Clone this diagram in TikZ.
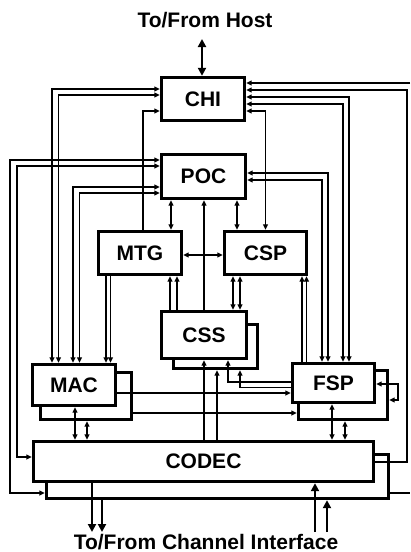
\documentclass[tikz,border=0pt]{standalone}
\usepackage{fontspec}
\setmainfont{Liberation Sans}
\usetikzlibrary{arrows.meta}
\begin{document}
\begin{tikzpicture}[x=1pt,y=-1pt,
  box/.style={draw, line width=3.4pt, fill=white, inner sep=0pt, outer sep=1.7pt,
    font=\bfseries\fontsize{21}{24}\selectfont},
  shd/.style={draw, line width=3.4pt, fill=white, inner sep=0pt, outer sep=1.7pt},
  lbl/.style={font=\bfseries\fontsize{21}{24}\selectfont, inner sep=0pt},
  ln/.style={line width=1.7pt},
  ar/.style={ln, -{Triangle[length=5.5pt,width=5pt]}},
  da/.style={ln, {Triangle[length=5.5pt,width=5pt]}-{Triangle[length=5.5pt,width=5pt]}},
  thk/.style={line width=2.6pt, -{Triangle[length=8pt,width=8pt]}},
  bthk/.style={line width=2.6pt, {Triangle[length=8pt,width=8pt]}-{Triangle[length=8pt,width=8pt]}}
]
\useasboundingbox (0,0) rectangle (410,552);

% shadows
\node[shd, minimum width=84pt, minimum height=44pt] (css2) at (215.5,346.5) {};
\node[shd, minimum width=91pt, minimum height=47pt] (mac2) at (86,396) {};
\node[shd, minimum width=89pt, minimum height=49pt] (fsp2) at (343,395) {};
\node[shd, minimum width=342pt, minimum height=44pt] (codec2) at (217.5,476.5) {};

% main boxes
\node[box, minimum width=83pt, minimum height=43pt] (chi) at (203,99) {CHI};
\node[box, minimum width=84pt, minimum height=44pt] (poc) at (203.5,176.5) {POC};
\node[box, minimum width=83pt, minimum height=43pt] (mtg) at (140,253) {MTG};
\node[box, minimum width=82pt, minimum height=43pt] (csp) at (265.5,253) {CSP};
\node[box, minimum width=85pt, minimum height=47pt] (css) at (204,335) {CSS};
\node[box, minimum width=83pt, minimum height=41pt] (mac) at (74,385) {MAC};
\node[box, minimum width=82pt, minimum height=39pt] (fsp) at (333.5,383) {FSP};
\node[box, minimum width=340pt, minimum height=40pt] (codec) at (203.5,461.5) {CODEC};

% labels
\node[lbl, anchor=base] (hostlbl) at (205,27) {To/From Host};
\node[lbl, anchor=base] (chanlbl) at (206,549) {To/From Channel Interface};

% host
\coordinate (hosttop) at (202,39);
\draw[bthk] (hosttop) -- (chi.north -| hosttop);

% channel
\coordinate (c1) at (92,532);
\coordinate (c2) at (102,532);
\coordinate (c3) at (315,532);
\coordinate (c4) at (327,532);
\draw[thk] (codec.south -| c1) -- (c1);
\draw[thk] (codec2.south -| c2) -- (c2);
\draw[thk] (c3) -- (codec.south -| c3);
\draw[thk] (c4) -- (codec2.south -| c4);

% CHI left
\draw[da] (chi.west |- 0,89) -| (mac.north -| 52,0);
\draw[da] (chi.west |- 0,95) -| (mac.north -| 58.5,0);
\draw[ar] (mtg.north -| 143,0) |- (chi.west |- 0,111);

% POC left
\draw[da] (poc.west |- 0,187) -| (mac.north -| 73,0);
\draw[da] (poc.west |- 0,193) -| (mac.north -| 79.5,0);
\draw[da] (poc.west |- 0,160) -| (10,493) -- (codec2.west |- 0,493);
\draw[da] (poc.west |- 0,166) -| (17,457) -- (codec.west |- 0,457);

% MTG -> MAC
\draw[ar] (mtg.south -| 106,0) -- (mac.north -| 106,0);
\draw[ar] (mtg.south -| 110.5,0) -- (mac.north -| 110.5,0);

% CHI right
\coordinate (redge1) at (410,83);
\coordinate (redge2) at (410,493);
\draw[ar] (redge1) -- (chi.east |- redge1);
\draw[ln] (codec2.east |- redge2) -- (redge2);
\draw[ar] (codec.east |- 0,462) -| (407,90) -- (chi.east |- 0,90);
\draw[da] (chi.east |- 0,97) -| (fsp.north -| 349,0);
\draw[da] (chi.east |- 0,104) -| (fsp.north -| 343,0);
\draw[da] (chi.east |- 0,111) -| (csp.north -| 265.5,0);

% POC right
\draw[da] (poc.east |- 0,173) -| (fsp.north -| 328,0);
\draw[da] (poc.east |- 0,180) -| (fsp.north -| 322,0);

% POC bottom
\draw[da] (poc.south -| 171,0) -- (mtg.north -| 171,0);
\draw[da] (poc.south -| 237,0) -- (csp.north -| 237,0);
\draw[ar] (css.north -| 204,0) -- (poc.south -| 204,0);

% MTG <-> CSP
\draw[da] (mtg.east |- 0,255) -- (csp.west |- 0,255);

% CSS -> MTG
\draw[ar] (css.north -| 170,0) -- (mtg.south -| 170,0);
\draw[ar] (css.north -| 177,0) -- (mtg.south -| 177,0);

% CSS <-> CSP
\draw[da] (css.north -| 233,0) -- (csp.south -| 233,0);
\draw[da] (css.north -| 240,0) -- (csp.south -| 240,0);

% FSP -> CSP
\draw[ar] (fsp.north -| 302,0) -- (csp.south -| 302,0);
\draw[ar] (fsp.north -| 306.5,0) -- (csp.south -| 306.5,0);

% CODEC -> CSS
\draw[ar] (codec.north -| 204,0) -- (css.south -| 204,0);
\draw[ar] (codec.north -| 217,0) -- (css2.south -| 217,0);

% FSP -> CSS
\draw[ar] (fsp.west |- 0,382) -| (css.south -| 228,0);
\draw[ar] (fsp.west |- 0,387.5) -| (css2.south -| 240,0);

% MAC -> FSP
\draw[ar] (mac.east |- 0,393) -- (fsp.west |- 0,393);
\draw[ar] (mac2.east |- 0,413) -- (fsp2.west |- 0,413);

% MAC <-> CODEC
\draw[da] (mac.south -| 75,0) -- (codec.north -| 75,0);
\draw[da] (mac2.south -| 87,0) -- (codec.north -| 87,0);

% FSP <-> CODEC
\draw[da] (fsp.south -| 332,0) -- (codec.north -| 332,0);
\draw[da] (fsp2.south -| 345,0) -- (codec.north -| 345,0);

% FSP loop
\draw[da] (fsp2.east |- 0,400) -- (398,400) |- (fsp.east |- 0,384);
\end{tikzpicture}
\end{document}
